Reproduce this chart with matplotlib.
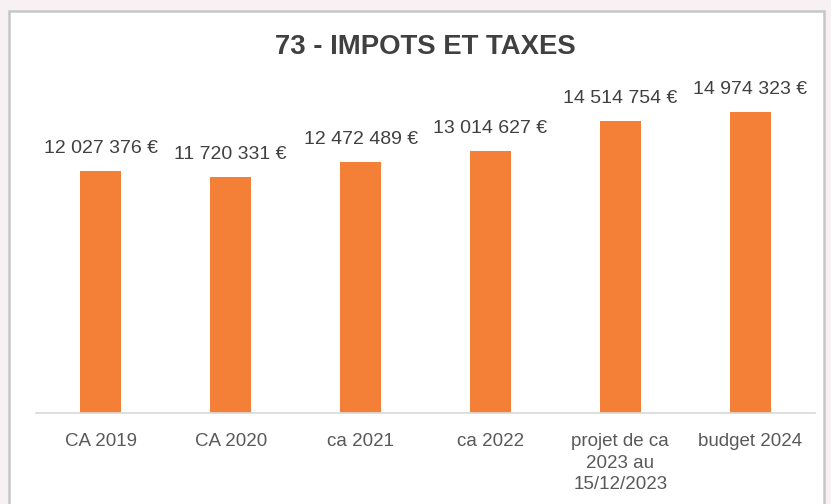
import matplotlib.pyplot as plt
from matplotlib.patches import Rectangle

plt.rcParams['font.family'] = ['Liberation Sans', 'DejaVu Sans']

categories = ['CA 2019', 'CA 2020', 'ca 2021', 'ca 2022',
              'projet de ca\n2023 au\n15/12/2023', 'budget 2024']
amounts = [12027376, 11720331, 12472489, 13014627, 14514754, 14974323]

def euro(v):
    return f'{v:,.0f}'.replace(',', ' ') + ' €'

fig = plt.figure(figsize=(8.31, 5.04), dpi=100, facecolor='#f7f1f3')

# white card behind the chart
card = Rectangle((9 / 831, -0.05), 815 / 831, 1 - 11 / 504 + 0.05,
                 transform=fig.transFigure, facecolor='white',
                 edgecolor='#c6c6c6', linewidth=1.8, zorder=-5)
fig.patches.append(card)

ax = fig.add_axes([36 / 831, 91 / 504, 779 / 831, 321.6 / 504])
ax.set_facecolor('none')

x = range(len(categories))
ax.bar(x, amounts, width=0.316, color='#f47f36', zorder=2)

for xi, v in zip(x, amounts):
    ax.annotate(euro(v), (xi, v), xytext=(0, 16.5), textcoords='offset points',
                ha='center', va='center', fontsize=14, color='#404040')

ax.set_xlim(-0.5, len(categories) - 0.5)
ax.set_ylim(0, 16e6)
ax.set_xticks(list(x))
ax.set_xticklabels(categories, fontsize=13.5, color='#595959', linespacing=1.35)
ax.tick_params(axis='x', length=0, pad=14.5)
ax.set_yticks([])
for s in ['top', 'right', 'left']:
    ax.spines[s].set_visible(False)
ax.spines['bottom'].set_color('#d9d9d9')
ax.spines['bottom'].set_linewidth(1.2)

fig.text(425 / 831, 1 - 47 / 504, '73 - IMPOTS ET TAXES', ha='center',
         va='center', fontsize=19.8, fontweight='bold', color='#404040')

fig.savefig('out.png', dpi=100, facecolor=fig.get_facecolor())
